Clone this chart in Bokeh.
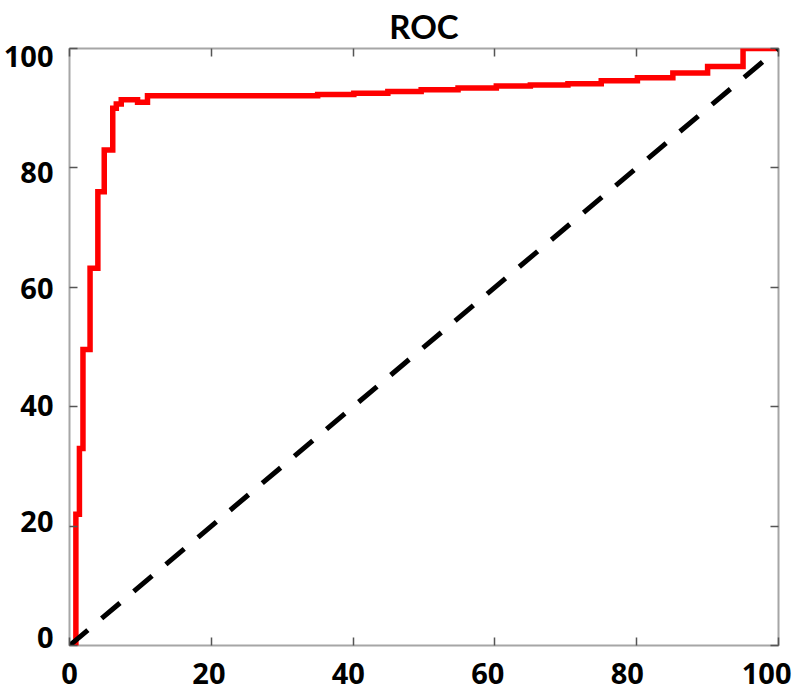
from bokeh.plotting import figure
from bokeh.models import LinearAxis, Range1d, FixedTicker, CustomLabelingPolicy
from bokeh.embed import file_html
from bokeh.resources import INLINE

# ---- data ----
title_text = "ROC"
fpr = [0, 0.9, 1.4, 1.9, 2.9, 4.0, 4.9, 6.1, 6.6, 7.3, 9.6, 11.0, 35.0, 40.1, 44.9,
       49.6, 54.8, 60.2, 65.0, 70.3, 75.0, 80.1, 85.1, 90.0, 95.0, 100]
tpr = [0, 22.0, 33.0, 49.6, 63.2, 76.0, 83.0, 90.0, 90.7, 91.4, 91.0, 92.1, 92.3, 92.5, 92.8,
       93.1, 93.4, 93.7, 93.9, 94.1, 94.6, 95.1, 95.9, 97.0, 100, 100]
chance_x = [0, 100]
chance_y = [0, 100]
x_ticks = [0, 20, 40, 60, 80, 100]
y_ticks = [0, 20, 40, 60, 80, 100]
x_tick_labels = ["0", "20", "40", "60", "80", "100"]
y_tick_labels = ["0", "20", "40", "60", "80", "100"]

FONT = "Open Sans"
TITLE_FONT = "Lato"

p = figure(width=800, height=692,
           x_range=Range1d(0, 100), y_range=Range1d(0, 100),
           x_axis_type=None, y_axis_type=None,
           output_backend="svg", toolbar_location=None,
           min_border_left=68, min_border_right=22,
           min_border_top=46, min_border_bottom=47)
p.background_fill_color = "white"
p.border_fill_color = "white"
p.outline_line_color = "#a6a6a6"
p.outline_line_width = 2

p.title.text = title_text
p.title.align = "center"
p.title.text_font = TITLE_FONT
p.title.text_font_style = "bold"
p.title.text_font_size = "33px"
p.title.text_color = "black"
p.title.standoff = 6

NO_LABELS = """
for (const i of indices) {
  indices.unset(i)
}
return indices
"""


def tick_axis(ticks):
    return LinearAxis(ticker=FixedTicker(ticks=ticks),
                      major_tick_in=8, major_tick_out=0,
                      minor_tick_in=0, minor_tick_out=0,
                      axis_line_color=None,
                      major_tick_line_color="#555555",
                      major_tick_line_width=1.5,
                      major_label_policy=CustomLabelingPolicy(code=NO_LABELS),
                      major_label_text_font_size="0px",
                      major_label_standoff=0)


def label_axis(ticks, labels, standoff, **kw):
    return LinearAxis(ticker=FixedTicker(ticks=ticks),
                      major_label_overrides={t: s for t, s in zip(ticks, labels)},
                      major_tick_in=0, major_tick_out=0,
                      minor_tick_in=0, minor_tick_out=0,
                      axis_line_color=None,
                      major_label_standoff=standoff,
                      major_label_text_font=FONT,
                      major_label_text_font_style="bold",
                      major_label_text_font_size="29px",
                      major_label_text_color="black", **kw)


# inner tick axes (inside ticks on all four sides)
p.add_layout(tick_axis(y_ticks), "left")
p.add_layout(tick_axis(x_ticks), "below")
p.add_layout(tick_axis(y_ticks), "right")
p.add_layout(tick_axis(x_ticks), "above")

# tick-label axes (labels in the original sit slightly inside the tick positions)
p.extra_x_ranges = {"xlab": Range1d(0, 101.7)}
p.extra_y_ranges = {"ylab": Range1d(-1.37, 101.37)}
p.add_layout(label_axis(y_ticks, y_tick_labels, 16, y_range_name="ylab"), "left")
p.add_layout(label_axis(x_ticks, x_tick_labels, 17, x_range_name="xlab"), "below")

# ROC curve and chance line
p.step(x=fpr, y=tpr, mode="after", line_color="#ff0000", line_width=5.5, line_join="miter")
p.line(x=chance_x, y=chance_y, line_color="black", line_width=5, line_dash="24 18")

open("out.html", "w").write(file_html(p, INLINE))
